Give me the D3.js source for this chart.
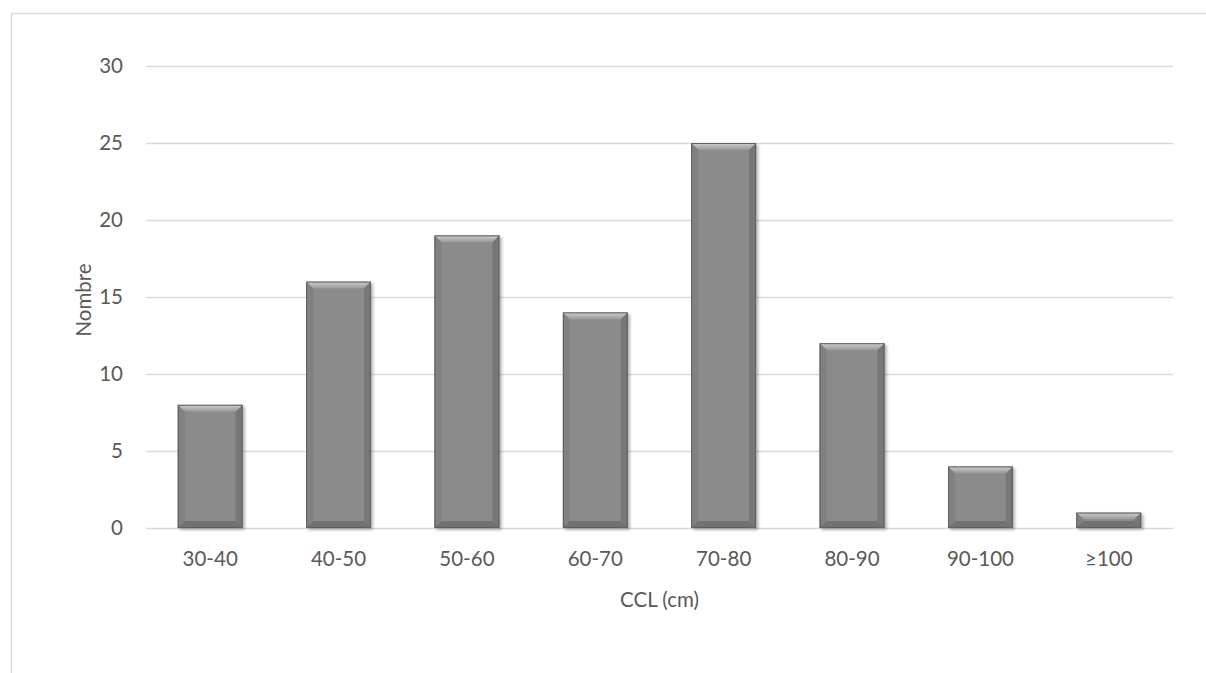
<!DOCTYPE html>
<html><head><meta charset="utf-8">
<script src="https://cdn.jsdelivr.net/npm/d3@7"></script>
<style>body{margin:0;background:#fff}svg{display:block}text{font-family:Lato,"Open Sans",sans-serif;fill:#595959}</style>
</head><body><svg id="c" width="1206" height="673"></svg>
<script>
const categories = ["30-40","40-50","50-60","60-70","70-80","80-90","90-100","≥100"];
const counts = [8,16,19,14,25,12,4,1];
const yTicks = [0,5,10,15,20,25,30];
const xTitle = "CCL (cm)";
const yTitle = "Nombre";

const FS = 20.5;
const svg = d3.select("#c");
svg.append("rect").attr("x",11.5).attr("y",13.5).attr("width",1300).attr("height",800)
  .attr("fill","none").attr("stroke","#d9d9d9").attr("stroke-width",1.5);

const L=146,R=1173,T=66,B=528;
const x = d3.scaleBand().domain(categories).range([L,R]).paddingInner(0.495).paddingOuter(0.2475);
const y = d3.scaleLinear().domain([0,30]).range([B,T]);

const defs = svg.append("defs");
const gTop = defs.append("linearGradient").attr("id","gt").attr("x1",0).attr("y1",0).attr("x2",0).attr("y2",1);
gTop.append("stop").attr("offset",0).attr("stop-color","#d0d0d0");
gTop.append("stop").attr("offset",1).attr("stop-color","#979797");
const sh = defs.append("filter").attr("id","sh").attr("x","-20%").attr("y","-20%").attr("width","140%").attr("height","140%");
sh.append("feGaussianBlur").attr("in","SourceAlpha").attr("stdDeviation",1.5);
sh.append("feOffset").attr("dx",1.5).attr("dy",1.5).attr("result","b");
sh.append("feComponentTransfer").append("feFuncA").attr("type","linear").attr("slope",0.3);
const m = sh.append("feMerge"); m.append("feMergeNode"); m.append("feMergeNode").attr("in","SourceGraphic");

// grid
svg.append("g").selectAll("line").data(yTicks).join("line")
  .attr("x1",L).attr("x2",R).attr("y1",d=>Math.round(y(d))+0.5).attr("y2",d=>Math.round(y(d))+0.5)
  .attr("stroke","#d9d9d9").attr("stroke-width",1.3);

// y labels
svg.append("g").selectAll("text").data(yTicks).join("text")
  .attr("x",123).attr("y",d=>y(d)).attr("dy","0.36em").attr("text-anchor","end")
  .attr("font-size",FS).text(d=>d);

// bars
const bars = svg.append("g").selectAll("g").data(categories.map((c,i)=>({c,v:counts[i]}))).join("g")
  .attr("filter","url(#sh)");
bars.each(function(d){
  const g=d3.select(this);
  const x0=x(d.c), w=x.bandwidth(), y0=y(d.v), h=B-y0;
  const b=Math.min(7,h/2);
  g.append("rect").attr("x",x0).attr("y",y0).attr("width",w).attr("height",h).attr("fill","#8b8b8b");
  const x1=x0+w, y1=B;
  g.append("polygon").attr("points",`${x0},${y0} ${x1},${y0} ${x1-b},${y0+b} ${x0+b},${y0+b}`).attr("fill","url(#gt)");
  g.append("polygon").attr("points",`${x0},${y0} ${x0+b},${y0+b} ${x0+b},${y1-b} ${x0},${y1}`).attr("fill","#818181");
  g.append("polygon").attr("points",`${x1},${y0} ${x1-b},${y0+b} ${x1-b},${y1-b} ${x1},${y1}`).attr("fill","#777777");
  g.append("polygon").attr("points",`${x0},${y1} ${x0+b},${y1-b} ${x1-b},${y1-b} ${x1},${y1}`).attr("fill","#727272");
  g.append("rect").attr("x",x0+0.5).attr("y",y0+0.5).attr("width",w-1).attr("height",h-1)
   .attr("fill","none").attr("stroke","#5e5e5e").attr("stroke-width",1);
});

// x labels
svg.append("g").selectAll("text").data(categories).join("text")
  .attr("x",d=>x(d)+x.bandwidth()/2).attr("y",558.5).attr("dy","0.36em").attr("text-anchor","middle")
  .attr("font-size",FS).text(d=>d);

svg.append("text").attr("x",(L+R)/2).attr("y",600).attr("dy","0.36em").attr("text-anchor","middle")
  .attr("font-size",FS).text(xTitle);
svg.append("text").attr("transform",`translate(84,300) rotate(-90)`).attr("dy","0.36em")
  .attr("text-anchor","middle").attr("font-size",FS).text(yTitle);
</script></body></html>
